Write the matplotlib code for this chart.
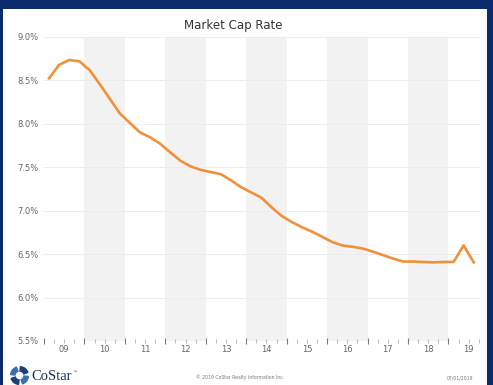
import matplotlib
matplotlib.use("Agg")
import matplotlib.pyplot as plt
from matplotlib.patches import Rectangle, Wedge
from matplotlib.ticker import FixedLocator, FuncFormatter

# quarterly market cap rate, 2009 Q1 .. 2019 Q3 (%)
cap_rate = [
    8.525, 8.68, 8.735, 8.72,
    8.62, 8.46, 8.29, 8.12,
    8.01, 7.90, 7.845, 7.77,
    7.67, 7.575, 7.51, 7.47,
    7.445, 7.42, 7.35, 7.27,
    7.21, 7.15, 7.04, 6.94,
    6.87, 6.81, 6.76, 6.70,
    6.64, 6.60, 6.585, 6.565,
    6.53, 6.49, 6.45, 6.415,
    6.415, 6.41, 6.405, 6.41,
    6.41, 6.60, 6.405,
]
years = list(range(2009, 2020))
year_labels = ["09", "10", "11", "12", "13", "14", "15", "16", "17", "18", "19"]
y_ticks = [5.5, 6.0, 6.5, 7.0, 7.5, 8.0, 8.5, 9.0]

# x position of each quarter = middle of the quarter
x_q = [2009 + i * 0.25 + 0.125 for i in range(len(cap_rate))]

navy = "#0b2a6c"
orange = "#f0913a"

fig = plt.figure(figsize=(4.93, 3.85), dpi=100, facecolor=navy)
# white panel inside the navy frame
fig.patches.append(Rectangle((3 / 493, 0), 484 / 493, 376 / 385,
                             transform=fig.transFigure, facecolor="white",
                             edgecolor="none", zorder=-5))

ax = fig.add_axes([44 / 493, 1 - 341 / 385, 436 / 493, 304 / 385])
ax.set_facecolor("none")

# alternating year bands
for y in years[1::2]:
    ax.axvspan(y, y + 1, color="#f2f2f2", lw=0, zorder=0)

ax.plot(x_q, cap_rate, color=orange, lw=1.9, solid_joinstyle="round", zorder=3)

ax.set_xlim(2009, 2019.78)
ax.set_ylim(5.5, 9.0)
for s in ax.spines.values():
    s.set_visible(False)

ax.yaxis.set_major_locator(FixedLocator(y_ticks))
ax.yaxis.set_major_formatter(FuncFormatter(lambda v, p: f"{v:.1f}%"))
ax.grid(axis="y", color="#ececec", lw=0.7, zorder=1)
ax.tick_params(axis="y", length=0, pad=4, labelsize=6, labelcolor="#666666")

ax.xaxis.set_major_locator(FixedLocator(years))
ax.xaxis.set_minor_locator(FixedLocator([y + q * 0.25 for y in years for q in (1, 2, 3)]))
ax.set_xticklabels([])
ax.tick_params(axis="x", which="major", direction="inout", length=5, width=0.8, color="#7a7a7a")
ax.tick_params(axis="x", which="minor", direction="inout", length=3, width=0.6, color="#b0b0b0")

for y, lab in zip(years, year_labels):
    ax.text(y + 0.5, -0.013, lab, transform=ax.get_xaxis_transform(),
            ha="center", va="top", fontsize=6, color="#666666")

fig.text(233.5 / 493, 1 - 26 / 385, "Market Cap Rate", ha="center", va="center",
         fontsize=8.5, color="#333333")

# footer
fig.text(240 / 493, 1 - 377.5 / 385, "\u00a9 2019 CoStar Realty Information Inc.",
         ha="center", va="center", fontsize=3.3, color="#777777")
fig.text(460 / 493, 1 - 377.5 / 385, "07/01/2019", ha="center", va="center",
         fontsize=3.3, color="#777777")

# CoStar logo: four arc pieces plus the word mark
logo_ax = fig.add_axes([9 / 493, 1 - 386 / 385, 21 / 493, 21 / 385])
logo_ax.set_xlim(-1, 1)
logo_ax.set_ylim(-1, 1)
logo_ax.set_aspect("equal")
logo_ax.axis("off")
for k, c in enumerate(["#1f3f7a", "#3b6db5", "#1f3f7a", "#3b6db5"]):
    a0 = 20 + k * 90
    logo_ax.add_patch(Wedge((0, 0), 0.85, a0, a0 + 64, width=0.42, color=c))
fig.text(31 / 493, 1 - 376 / 385, "CoStar", ha="left", va="center",
         fontsize=10.5, family="Liberation Serif", color="#1e2f55")
fig.text(72 / 493, 1 - 372 / 385, "\u2122", ha="left", va="center",
         fontsize=3.5, color="#1e2f55")

fig.savefig("out.png", dpi=100, facecolor=navy)
